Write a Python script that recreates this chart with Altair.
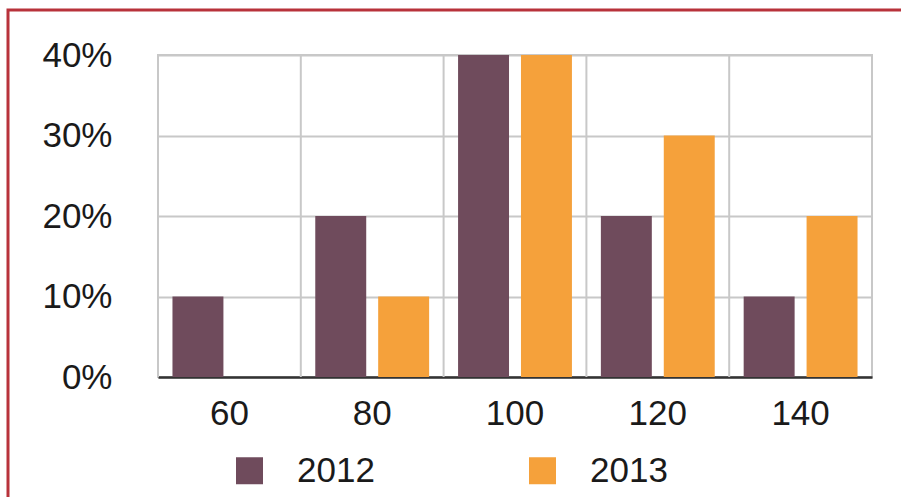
import altair as alt
import pandas as pd

categories = ["60", "80", "100", "120", "140"]
years = ["2012", "2013"]
values_2012 = [0.10, 0.20, 0.40, 0.20, 0.10]
values_2013 = [0.00, 0.10, 0.40, 0.30, 0.20]
y_ticks = [0.0, 0.1, 0.2, 0.3, 0.4]
colors = ["#6f4b5c", "#f5a13b"]

rows = []
for c, a, b in zip(categories, values_2012, values_2013):
    rows.append({"speed": c, "year": years[0], "share": a})
    rows.append({"speed": c, "year": years[1], "share": b})
bars_df = pd.DataFrame(rows)
cat_df = pd.DataFrame({"speed": categories})
frame_df = pd.DataFrame({"k": [1]})

FONT = "Liberation Sans"
W, H = 714, 322

x_enc = alt.X(
    "speed:N",
    sort=categories,
    scale=alt.Scale(paddingInner=0, paddingOuter=0),
    axis=alt.Axis(
        title=None, labelAngle=0, labelAlign="center", bandPosition=0.5,
        ticks=False, grid=False,
        labelFont=FONT, labelFontSize=35, labelColor="#1a1a1a",
        labelPadding=36, domainColor="#333333", domainWidth=2.5,
    ),
)

bars = alt.Chart(bars_df).mark_bar().encode(
    x=x_enc,
    xOffset=alt.XOffset("year:N", sort=years,
                        scale=alt.Scale(paddingInner=0.19, paddingOuter=0.23)),
    y=alt.Y(
        "share:Q",
        scale=alt.Scale(domain=[0, 0.4]),
        axis=alt.Axis(
            title=None, values=y_ticks, format=".0%", ticks=False, domain=False,
            grid=True, gridColor="#c8c8c8", gridWidth=2,
            labelFont=FONT, labelFontSize=35, labelColor="#1a1a1a",
            labelPadding=46,
        ),
    ),
    color=alt.Color(
        "year:N",
        sort=years,
        scale=alt.Scale(domain=years, range=colors),
        legend=alt.Legend(
            title=None, orient="none", legendX=74, legendY=398,
            direction="horizontal", symbolType="square", symbolSize=729,
            symbolStrokeWidth=0, labelFont=FONT, labelFontSize=35,
            labelColor="#1a1a1a", labelOffset=30, columnPadding=150, padding=0,
        ),
    ),
)

vgrid = alt.Chart(cat_df).mark_rule(color="#c8c8c8", strokeWidth=2).encode(
    x=alt.X("speed:N", sort=categories, bandPosition=0),
    y=alt.value(0),
    y2=alt.value(H),
)

border = alt.Chart(frame_df).mark_rect(
    fill="transparent", stroke="#b8323b", strokeWidth=3
).encode(
    x=alt.value(-150), x2=alt.value(770), y=alt.value(-45), y2=alt.value(470)
)

chart = alt.layer(vgrid, bars, border).properties(
    width=W, height=H,
    autosize=alt.AutoSizeParams(type="none"),
    padding={"left": 158, "top": 55, "right": 29, "bottom": 120},
    background="white",
).configure_view(stroke="#c8c8c8", strokeWidth=2)

chart.save("out.html", embed_options={"renderer": "svg", "actions": False})
